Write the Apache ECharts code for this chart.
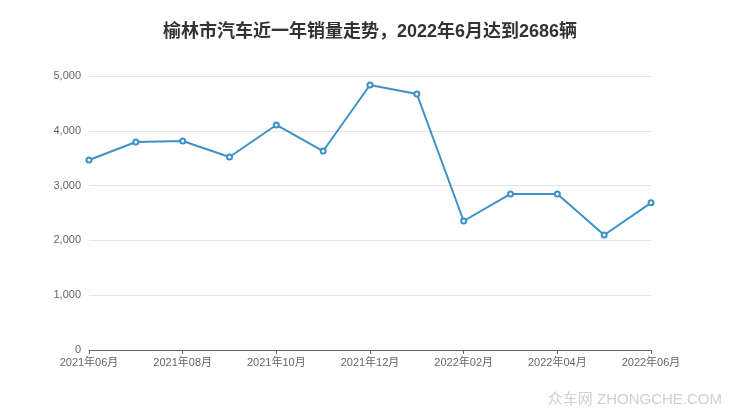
<!DOCTYPE html>
<html><head><meta charset="utf-8">
<script src="https://cdn.jsdelivr.net/npm/echarts@6/dist/echarts.min.js"></script>
<style>html,body{margin:0;padding:0;background:#fff}#c{width:740px;height:417px}</style>
</head><body><div id="c"></div>
<script>
const categories = ['2021年06月','2021年07月','2021年08月','2021年09月','2021年10月','2021年11月','2021年12月','2022年01月','2022年02月','2022年03月','2022年04月','2022年05月','2022年06月'];
const sales = [3467, 3796, 3814, 3522, 4106, 3631, 4836, 4672, 2354, 2847, 2847, 2099, 2686];
const titleText = '榆林市汽车近一年销量走势，2022年6月达到2686辆';
const watermark = '众车网 ZHONGCHE.COM';
const FONT = '"Liberation Sans", "Noto Sans CJK SC", sans-serif';

const chart = echarts.init(document.getElementById('c'));
chart.setOption({
  animation: false,
  title: {
    text: titleText, left: 'center', top: 18,
    textStyle: {fontSize: 18, fontWeight: 'bold', color: '#333', fontFamily: FONT}
  },
  grid: {left: 89, right: 89, top: 76, bottom: 67},
  xAxis: {
    type: 'category', data: categories, boundaryGap: false,
    axisLine: {lineStyle: {color: '#666'}},
    axisTick: {interval: 1, length: 4, lineStyle: {color: '#666'}},
    axisLabel: {interval: 1, color: '#666', fontSize: 11, margin: 7, fontFamily: FONT}
  },
  yAxis: {
    type: 'value', min: 0, max: 5000, interval: 1000,
    axisLine: {show: false}, axisTick: {show: false},
    axisLabel: {color: '#666', fontSize: 11, margin: 8, fontFamily: FONT},
    splitLine: {lineStyle: {color: '#e6e6e6'}}
  },
  series: [{
    type: 'line', data: sales,
    symbol: 'emptyCircle', symbolSize: 5,
    lineStyle: {color: '#3c91c6', width: 2},
    itemStyle: {color: '#3c91c6', borderWidth: 1.5}
  }],
  graphic: [{
    type: 'text', right: 18, bottom: 10,
    style: {text: watermark, fontSize: 15, fill: '#d0d0d0', fontFamily: FONT}
  }]
});
</script></body></html>
